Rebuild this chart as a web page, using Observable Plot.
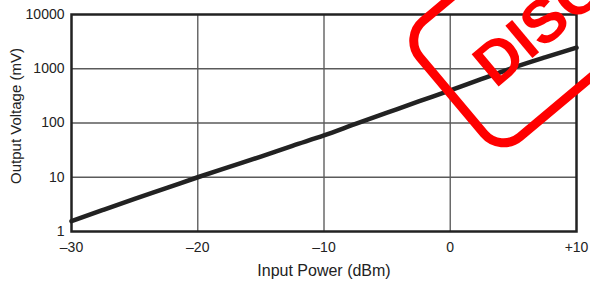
<!DOCTYPE html>
<html>
<head>
<meta charset="utf-8">
<script src="https://cdn.jsdelivr.net/npm/d3@7"></script>
<script src="https://cdn.jsdelivr.net/npm/@observablehq/plot@0.6"></script>
<style>
  html, body { margin: 0; padding: 0; background: #fff; overflow: hidden; }
  #wrap { position: relative; width: 590px; height: 287px; overflow: hidden; }
  #stamp {
    position: absolute; left: 397px; top: 37px; width: 540px; height: 160px;
    box-sizing: border-box; border: 9px solid #ff0000; border-radius: 30px;
    transform-origin: 0 0; transform: rotate(-40deg);
    pointer-events: none;
  }
  #stamp span {
    position: absolute; left: 33px; top: 43px;
    font-family: "Liberation Sans", Arial, sans-serif; font-weight: bold;
    font-size: 61px; line-height: 1; color: #ff0000; white-space: nowrap;
  }
</style>
</head>
<body>
<div id="wrap"><div id="chart"></div><div id="stamp"><span>DISCONTINUED</span></div></div>
<script>
const inputPowerDbm = [-30, -27.5, -25, -22.5, -20, -17.5, -15, -12.5, -10, -7.5, -5, -2.5, 0, 2.5, 5, 7.5, 10];
const outputVoltageMv = [1.55, 2.5, 4.0, 6.3, 10, 15.5, 24, 38, 59, 96, 155, 250, 398, 650, 1050, 1620, 2450];
const xTicks = [-30, -20, -10, 0, 10];
const xTickLabels = ["\u201330", "\u201320", "\u201310", "0", "+10"];
const yTicks = [1, 10, 100, 1000, 10000];
const yTickLabels = ["1", "10", "100", "1000", "10000"];
const xLabel = "Input Power (dBm)";
const yLabel = "Output Voltage (mV)";

const data = inputPowerDbm.map((x, i) => ({x, y: outputVoltageMv[i]}));

const chart = Plot.plot({
  width: 590,
  height: 287,
  marginLeft: 71,
  marginRight: 14,
  marginTop: 14,
  marginBottom: 56,
  style: {fontFamily: "'Liberation Sans', Arial, sans-serif", fontSize: "14px", color: "#222", background: "transparent"},
  x: {domain: [-30, 10]},
  y: {type: "log", domain: [1, 10000]},
  marks: [
    Plot.gridX(xTicks.slice(1, -1), {stroke: "#6a6a6a", strokeOpacity: 1, strokeWidth: 1.5}),
    Plot.gridY(yTicks.slice(1, -1), {stroke: "#5a5a5a", strokeOpacity: 1, strokeWidth: 1.5}),
    Plot.line(data, {x: "x", y: "y", stroke: "#222", strokeWidth: 4.5, curve: "monotone-x"}),
    Plot.frame({stroke: "#222", strokeWidth: 2.5}),
    Plot.axisX(xTicks, {tickSize: 0, tickPadding: 11, fontSize: 14,
      tickFormat: d => xTickLabels[xTicks.indexOf(d)], label: null}),
    Plot.axisY(yTicks, {tickSize: 0, tickPadding: 7, fontSize: 14,
      tickFormat: d => yTickLabels[yTicks.indexOf(d)], label: null}),
    Plot.text([xLabel], {frameAnchor: "bottom", text: d => d, dy: 39, lineAnchor: "middle", textAnchor: "middle", fontSize: 16, fill: "#222"}),
    Plot.text([yLabel], {frameAnchor: "left", text: d => d, rotate: -90, dx: -55, dy: -7, lineAnchor: "middle", textAnchor: "middle", fontSize: 15, fill: "#222"})
  ]
});
document.getElementById("chart").appendChild(chart);
</script>
</body>
</html>
